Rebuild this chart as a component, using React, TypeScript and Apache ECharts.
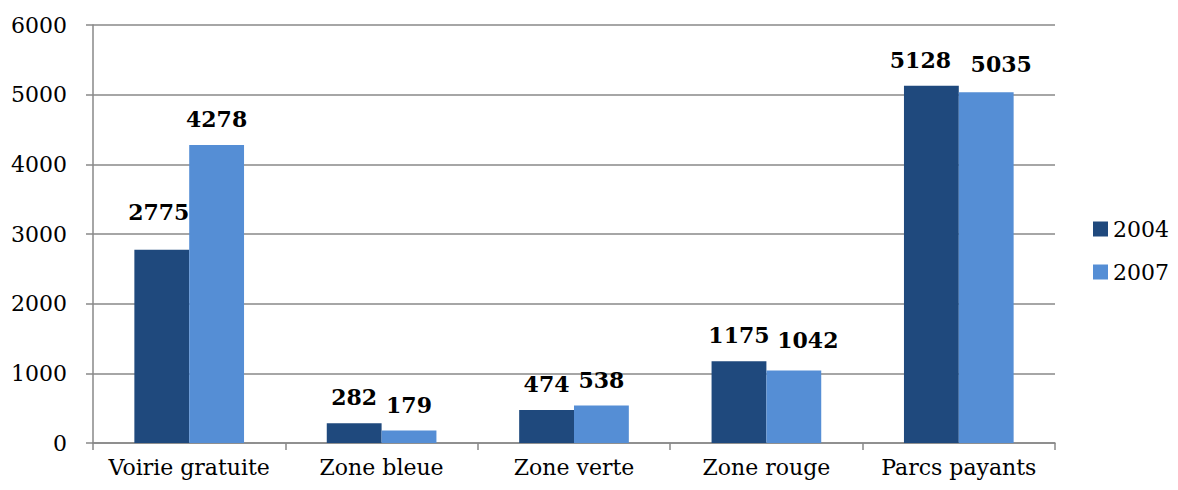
import React, { useEffect, useRef } from "react";
import * as echarts from "echarts";

const categories = ["Voirie gratuite", "Zone bleue", "Zone verte", "Zone rouge", "Parcs payants"];
const values2004 = [2775, 282, 474, 1175, 5128];
const values2007 = [4278, 179, 538, 1042, 5035];
const seriesNames = ["2004", "2007"];
const colors = ["#1F497D", "#558ED5"];
// nudges of the value labels (as in the reference, to avoid overlap)
const labelShift2004: [number, number][] = [[-3, -12], [0, 0], [0, 0], [0, 0], [-11, 0]];
const labelShift2007: [number, number][] = [[0, 0], [0, 0], [0, 0], [14, -4], [15, -2]];

export default function App() {
  const ref = useRef<HTMLDivElement>(null);
  useEffect(() => {
    const chart = echarts.init(ref.current!, null, { renderer: "svg" });
    const font = "'DejaVu Serif', serif";
    const label = {
      show: true,
      position: "top",
      distance: 15,
      fontFamily: font,
      fontWeight: "bold",
      fontSize: 22,
      color: "#000",
    };
    const mk = (vals: number[], shifts: [number, number][]) =>
      vals.map((v, i) => ({ value: v, label: { offset: shifts[i] } }));
    chart.setOption({
      animation: false,
      backgroundColor: "#fff",
      grid: { left: 93, right: 123, top: 25, bottom: 47, containLabel: false },
      legend: {
        orient: "vertical",
        right: 4,
        top: 213,
        itemWidth: 15,
        itemHeight: 15,
        itemGap: 21,
        icon: "rect",
        textStyle: { fontFamily: font, fontSize: 22, color: "#000" },
        data: seriesNames,
      },
      xAxis: {
        type: "category",
        data: categories,
        axisLine: { lineStyle: { color: "#888", width: 1.5 } },
        axisTick: { show: true, length: 7, lineStyle: { color: "#888", width: 1.5 } },
        axisLabel: { fontFamily: font, fontSize: 22, color: "#000", margin: 13, interval: 0 },
      },
      yAxis: {
        type: "value",
        min: 0,
        max: 6000,
        interval: 1000,
        axisLine: { show: true, lineStyle: { color: "#888", width: 1.5 } },
        axisTick: { show: true, length: 7, lineStyle: { color: "#888", width: 1.5 } },
        splitLine: { lineStyle: { color: "#888", width: 1.5 } },
        axisLabel: {
          fontFamily: font,
          fontSize: 22,
          color: "#000",
          margin: 26,
          formatter: (v: number) => String(v),
        },
      },
      series: [
        {
          name: seriesNames[0],
          type: "bar",
          data: mk(values2004, labelShift2004),
          itemStyle: { color: colors[0] },
          barGap: "0%",
          barCategoryGap: "43%",
          label,
        },
        {
          name: seriesNames[1],
          type: "bar",
          data: mk(values2007, labelShift2007),
          itemStyle: { color: colors[1] },
          barGap: "0%",
          barCategoryGap: "43%",
          label,
        },
      ],
    });
    return () => chart.dispose();
  }, []);
  return <div ref={ref} style={{ width: 1178, height: 490, position: "absolute", left: 0, top: 0 }} />;
}
